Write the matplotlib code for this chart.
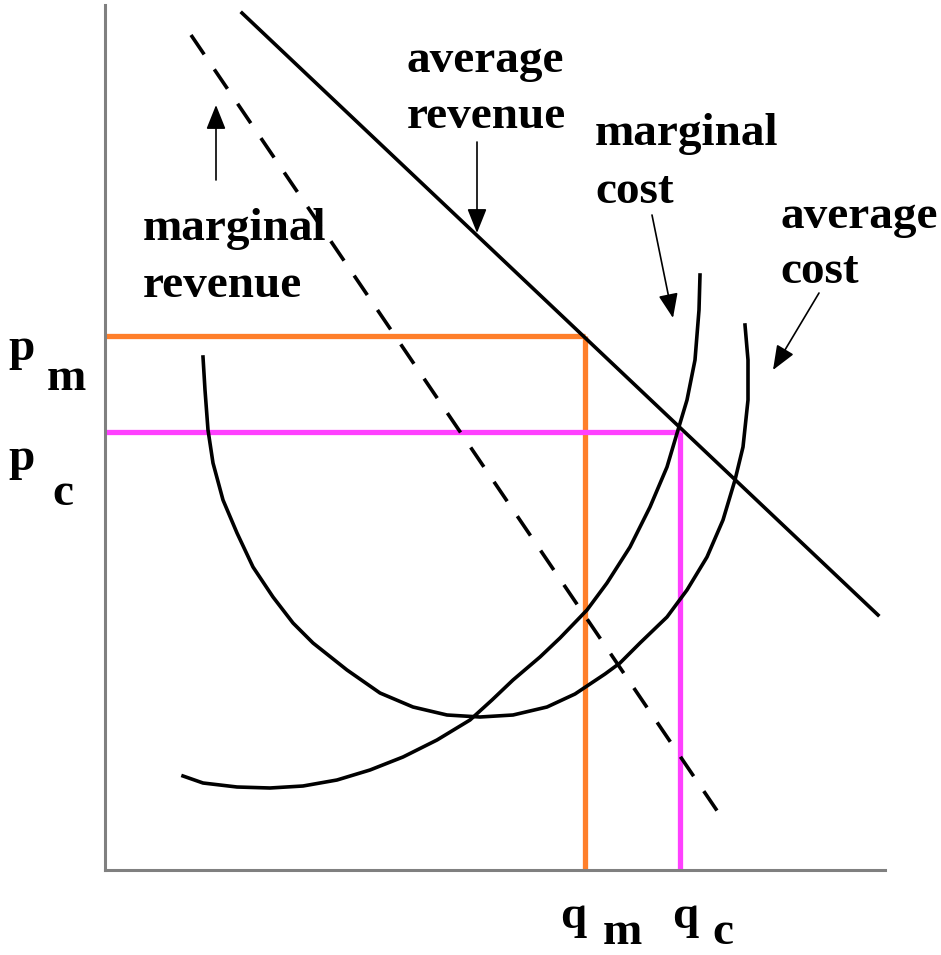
import numpy as np
import matplotlib
matplotlib.use("Agg")
import matplotlib.pyplot as plt

# quantity / price in the chart's own units (origin at the axes corner)
q_m, p_m = 480, 534
q_c, p_c = 575, 438

# average revenue (demand) and marginal revenue: straight lines
ar_q = [137, 773]
ar_p = [857, 255]
mr_q = [86, 617]
mr_p = [835, 52]

# average cost curve
ac_q = [98, 100, 103, 108, 118, 132, 148, 168, 188, 208, 242, 275, 308, 342, 375,
        408, 442, 470, 500, 515, 535, 562, 582, 602, 618, 630, 638, 643, 643, 640]
ac_p = [513, 480, 440, 407, 370, 337, 303, 273, 247, 227, 200, 177, 163, 155, 153,
        155, 163, 176, 196, 207, 227, 253, 280, 313, 350, 390, 423, 470, 510, 545]

# marginal cost curve
mc_q = [78, 98, 132, 165, 198, 232, 265, 298, 332, 365, 387, 408, 435, 455, 482,
        502, 525, 545, 562, 573, 582, 590, 594, 595]
mc_p = [94, 87, 83, 82, 84, 90, 100, 113, 130, 150, 170, 190, 213, 232, 260,
        287, 323, 363, 403, 440, 470, 510, 560, 595]

# labels: (text, q, p) with p at the baseline
curve_labels = [
    ("average", 302, 798), ("revenue", 302, 742),
    ("marginal", 38, 630), ("revenue", 38, 573),
    ("marginal", 490, 725), ("cost", 490, 667),
    ("average", 675, 642), ("cost", 675, 587),
]
axis_labels = [
    ("p", -97, 510), ("m", -58, 480),
    ("p", -97, 400), ("c", -53, 365),
    ("q", 455, -58), ("m", 498, -74),
    ("q", 567, -58), ("c", 607, -74),
]
# arrows: (from q, from p, to q, to p)
arrows = [
    (111, 690, 111, 765),
    (372, 728, 372, 637),
    (547, 655, 568, 552),
    (714, 577, 668, 500),
]

W, H = 941, 955
fig = plt.figure(figsize=(W / 100, H / 100), dpi=100)
ax = fig.add_axes([105 / W, 85 / H, 836 / W, 870 / H])
ax.set_xlim(0, 836)
ax.set_ylim(0, 870)

for side in ["top", "right"]:
    ax.spines[side].set_visible(False)
for side in ["left", "bottom"]:
    ax.spines[side].set_color("#808080")
    ax.spines[side].set_linewidth(2.2)
ax.spines["left"].set_bounds(0, 865)
ax.spines["bottom"].set_bounds(0, 780)
ax.set_xticks([])
ax.set_yticks([])

orange = "#FF7F2A"
magenta = "#FF40FF"

# monopoly and competitive price/quantity guides
ax.plot([0, q_m], [p_m, p_m], color=orange, lw=3.8, solid_capstyle="butt", zorder=2)
ax.plot([q_m, q_m], [0, p_m], color=orange, lw=3.8, solid_capstyle="butt", zorder=2)
ax.plot([0, q_c], [p_c, p_c], color=magenta, lw=3.8, solid_capstyle="butt", zorder=2)
ax.plot([q_c, q_c], [0, p_c], color=magenta, lw=3.8, solid_capstyle="butt", zorder=2)

# curves
ax.plot(ar_q, ar_p, color="black", lw=2.6, zorder=3)
ax.plot(mr_q, mr_p, color="black", lw=2.6, linestyle=(0, (6.5, 5)), zorder=3)
ax.plot(ac_q, ac_p, color="black", lw=2.6, zorder=3, solid_joinstyle="round")
ax.plot(mc_q, mc_p, color="black", lw=2.6, zorder=3, solid_joinstyle="round")

font = dict(family="Liberation Serif", weight="bold", fontsize=34, color="black")
for txt, x, y in curve_labels + axis_labels:
    ax.text(x, y, txt, ha="left", va="baseline", clip_on=False, **font)

for x0, y0, x1, y1 in arrows:
    ax.annotate("", xy=(x1, y1), xytext=(x0, y0),
                arrowprops=dict(arrowstyle="-|>,head_length=0.75,head_width=0.3",
                                color="black", lw=1.2, mutation_scale=20,
                                shrinkA=0, shrinkB=0))

fig.savefig("out.png", dpi=100)
